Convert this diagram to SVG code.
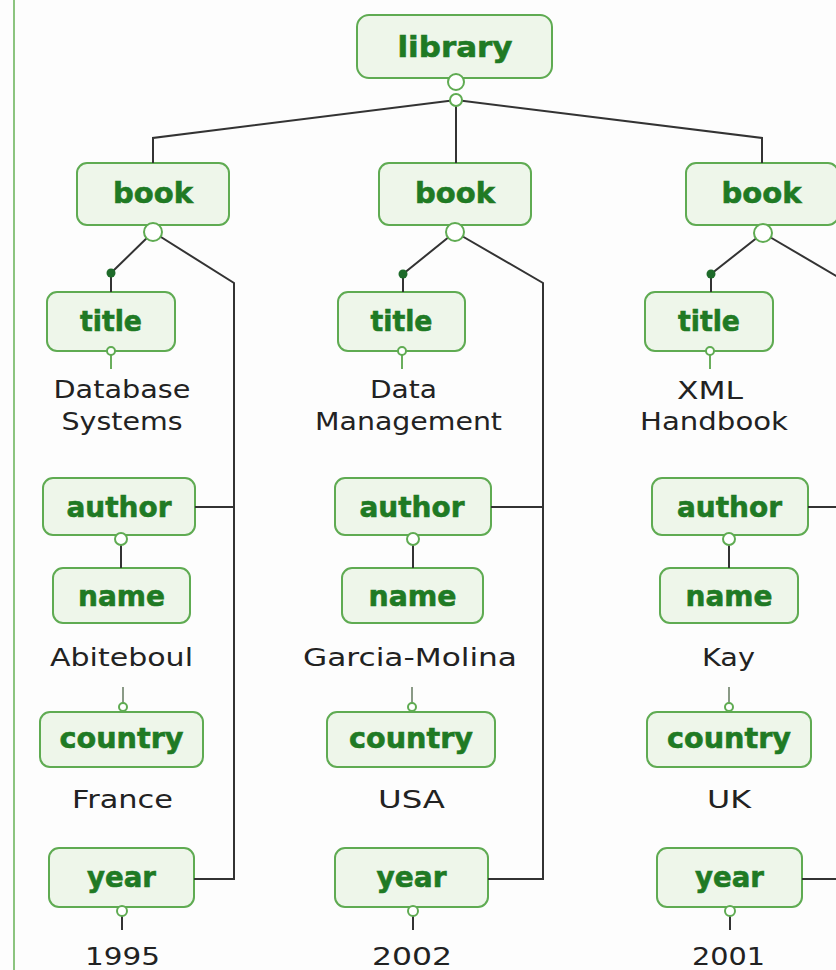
<svg xmlns="http://www.w3.org/2000/svg" width="836" height="970" viewBox="0 0 836 970">
<style>
.box{fill:#eef6ea;stroke:#5fab52;stroke-width:2}
.t{font-family:"DejaVu Sans","Liberation Sans",sans-serif;font-weight:bold;font-size:28px;fill:#1f7a24;stroke:#1f7a24;stroke-width:0.6;text-anchor:middle}
.lb{font-family:"DejaVu Sans","Liberation Sans",sans-serif;font-size:25px;fill:#222;text-anchor:middle}
.ln{fill:none;stroke:#333;stroke-width:2}
.gl{fill:none;stroke:#6aae5c;stroke-width:2}
.gy{fill:none;stroke:#8a9a86;stroke-width:2}
.oc{fill:#fff;stroke:#5fab52;stroke-width:2}
.dot{fill:#1e6b2a}
</style>
<rect width="836" height="970" fill="#fdfdfd"/>
<line x1="14" y1="0" x2="14" y2="970" stroke="#8cc47f" stroke-width="2"/>
<g id="nodes">
<g id="library"><rect class="box" x="357" y="15" width="195" height="63" rx="12"/><text class="t" x="455" y="57" font-size="31" textLength="115" lengthAdjust="spacingAndGlyphs">library</text></g>
<g id="book1"><rect class="box" x="77" y="163" width="152" height="62" rx="10"/><text class="t" x="153" y="203" textLength="80" lengthAdjust="spacingAndGlyphs">book</text></g>
<g id="book2"><rect class="box" x="379" y="163" width="152" height="62" rx="10"/><text class="t" x="455" y="203" textLength="80" lengthAdjust="spacingAndGlyphs">book</text></g>
<g id="book3"><rect class="box" x="686" y="163" width="152" height="62" rx="10"/><text class="t" x="761.5" y="203" textLength="80" lengthAdjust="spacingAndGlyphs">book</text></g>
<g id="title1"><rect class="box" x="47" y="292" width="128" height="59" rx="10"/><text class="t" x="111" y="331" textLength="62" lengthAdjust="spacingAndGlyphs">title</text></g>
<g id="title2"><rect class="box" x="338" y="292" width="127" height="59" rx="10"/><text class="t" x="401.5" y="331" textLength="62" lengthAdjust="spacingAndGlyphs">title</text></g>
<g id="title3"><rect class="box" x="645" y="292" width="128" height="59" rx="10"/><text class="t" x="709" y="331" textLength="62" lengthAdjust="spacingAndGlyphs">title</text></g>
<g id="author1"><rect class="box" x="43" y="478" width="152" height="57" rx="10"/><text class="t" x="119" y="517" textLength="105" lengthAdjust="spacingAndGlyphs">author</text></g>
<g id="author2"><rect class="box" x="335" y="478" width="156" height="57" rx="10"/><text class="t" x="412" y="517" textLength="105" lengthAdjust="spacingAndGlyphs">author</text></g>
<g id="author3"><rect class="box" x="652" y="478" width="156" height="57" rx="10"/><text class="t" x="729.5" y="517" textLength="105" lengthAdjust="spacingAndGlyphs">author</text></g>
<g id="name1"><rect class="box" x="53" y="568" width="137" height="55" rx="10"/><text class="t" x="121.5" y="606" textLength="87" lengthAdjust="spacingAndGlyphs">name</text></g>
<g id="name2"><rect class="box" x="342" y="568" width="141" height="55" rx="10"/><text class="t" x="412.5" y="606" textLength="88" lengthAdjust="spacingAndGlyphs">name</text></g>
<g id="name3"><rect class="box" x="660" y="568" width="138" height="55" rx="10"/><text class="t" x="729" y="606" textLength="87" lengthAdjust="spacingAndGlyphs">name</text></g>
<g id="country1"><rect class="box" x="40" y="712" width="163" height="55" rx="10"/><text class="t" x="121.5" y="748" textLength="124" lengthAdjust="spacingAndGlyphs">country</text></g>
<g id="country2"><rect class="box" x="327" y="712" width="168" height="55" rx="10"/><text class="t" x="411" y="748" textLength="124" lengthAdjust="spacingAndGlyphs">country</text></g>
<g id="country3"><rect class="box" x="647" y="712" width="164" height="55" rx="10"/><text class="t" x="729" y="748" textLength="124" lengthAdjust="spacingAndGlyphs">country</text></g>
<g id="year1"><rect class="box" x="49" y="848" width="145" height="59" rx="10"/><text class="t" x="121.5" y="887" textLength="69" lengthAdjust="spacingAndGlyphs">year</text></g>
<g id="year2"><rect class="box" x="335" y="848" width="153" height="59" rx="10"/><text class="t" x="411.5" y="887" textLength="70" lengthAdjust="spacingAndGlyphs">year</text></g>
<g id="year3"><rect class="box" x="657" y="848" width="145" height="59" rx="10"/><text class="t" x="729.5" y="887" textLength="69" lengthAdjust="spacingAndGlyphs">year</text></g>
<g id="values">
<text class="lb" x="122" y="398" textLength="137" lengthAdjust="spacingAndGlyphs">Database</text>
<text class="lb" x="122" y="430" textLength="121" lengthAdjust="spacingAndGlyphs">Systems</text>
<text class="lb" x="121.5" y="666" textLength="143" lengthAdjust="spacingAndGlyphs">Abiteboul</text>
<text class="lb" x="122.5" y="808" textLength="101" lengthAdjust="spacingAndGlyphs">France</text>
<text class="lb" x="122.5" y="965" textLength="75" lengthAdjust="spacingAndGlyphs">1995</text>
<text class="lb" x="403.5" y="398" textLength="67" lengthAdjust="spacingAndGlyphs">Data</text>
<text class="lb" x="408.5" y="430" textLength="187" lengthAdjust="spacingAndGlyphs">Management</text>
<text class="lb" x="410" y="666" textLength="214" lengthAdjust="spacingAndGlyphs">Garcia-Molina</text>
<text class="lb" x="411.5" y="808" textLength="67" lengthAdjust="spacingAndGlyphs">USA</text>
<text class="lb" x="412" y="965" textLength="80" lengthAdjust="spacingAndGlyphs">2002</text>
<text class="lb" x="710" y="399" textLength="66" lengthAdjust="spacingAndGlyphs">XML</text>
<text class="lb" x="714" y="430" textLength="148" lengthAdjust="spacingAndGlyphs">Handbook</text>
<text class="lb" x="728.5" y="666" textLength="53" lengthAdjust="spacingAndGlyphs">Kay</text>
<text class="lb" x="729" y="808" textLength="44" lengthAdjust="spacingAndGlyphs">UK</text>
<text class="lb" x="728.5" y="965" textLength="73" lengthAdjust="spacingAndGlyphs">2001</text>
</g>
</g>
<g id="connectors">
<polyline class="ln" points="153,163 153,138 456,100 762,138 762,163"/>
<line class="ln" x1="456" y1="100" x2="456" y2="163"/>
<circle class="oc" cx="456" cy="82" r="8"/>
<circle class="oc" cx="456" cy="100" r="6"/>
<polyline class="ln" points="153,232 111,273 111,292"/>
<polyline class="ln" points="153,232 234,283 234,879 194,879"/>
<line class="ln" x1="195" y1="507" x2="234" y2="507"/>
<circle class="oc" cx="153" cy="232" r="9"/>
<circle class="dot" cx="111" cy="273" r="4.5"/>
<line class="gl" x1="111" y1="355" x2="111" y2="369"/>
<circle class="oc" cx="111" cy="351" r="4"/>
<line class="ln" x1="121" y1="545" x2="121" y2="568"/>
<circle class="oc" cx="121" cy="539" r="6"/>
<line class="gy" x1="123" y1="687" x2="123" y2="703"/>
<circle class="oc" cx="123" cy="707" r="4"/>
<line class="ln" x1="122" y1="916" x2="122" y2="930"/>
<circle class="oc" cx="122" cy="911" r="5"/>
<polyline class="ln" points="455,232 403,274 403,292"/>
<polyline class="ln" points="455,232 543,283 543,879 488,879"/>
<line class="ln" x1="491" y1="507" x2="543" y2="507"/>
<circle class="oc" cx="455" cy="232" r="9"/>
<circle class="dot" cx="403" cy="274" r="4.5"/>
<line class="gl" x1="402" y1="355" x2="402" y2="369"/>
<circle class="oc" cx="402" cy="351" r="4"/>
<line class="ln" x1="413" y1="545" x2="413" y2="568"/>
<circle class="oc" cx="413" cy="539" r="6"/>
<line class="gy" x1="412" y1="687" x2="412" y2="703"/>
<circle class="oc" cx="412" cy="707" r="4"/>
<line class="ln" x1="413" y1="916" x2="413" y2="930"/>
<circle class="oc" cx="413" cy="911" r="5"/>
<polyline class="ln" points="763,233 711,274 711,292"/>
<polyline class="ln" points="763,233 850,284"/>
<line class="ln" x1="808" y1="507" x2="840" y2="507"/>
<line class="ln" x1="802" y1="879" x2="840" y2="879"/>
<circle class="oc" cx="763" cy="233" r="9"/>
<circle class="dot" cx="711" cy="274" r="4.5"/>
<line class="gl" x1="710" y1="355" x2="710" y2="369"/>
<circle class="oc" cx="710" cy="351" r="4"/>
<line class="ln" x1="729" y1="545" x2="729" y2="568"/>
<circle class="oc" cx="729" cy="539" r="6"/>
<line class="gy" x1="729" y1="687" x2="729" y2="703"/>
<circle class="oc" cx="729" cy="707" r="4"/>
<line class="ln" x1="730" y1="916" x2="730" y2="930"/>
<circle class="oc" cx="730" cy="911" r="5"/>
</g>
</svg>
